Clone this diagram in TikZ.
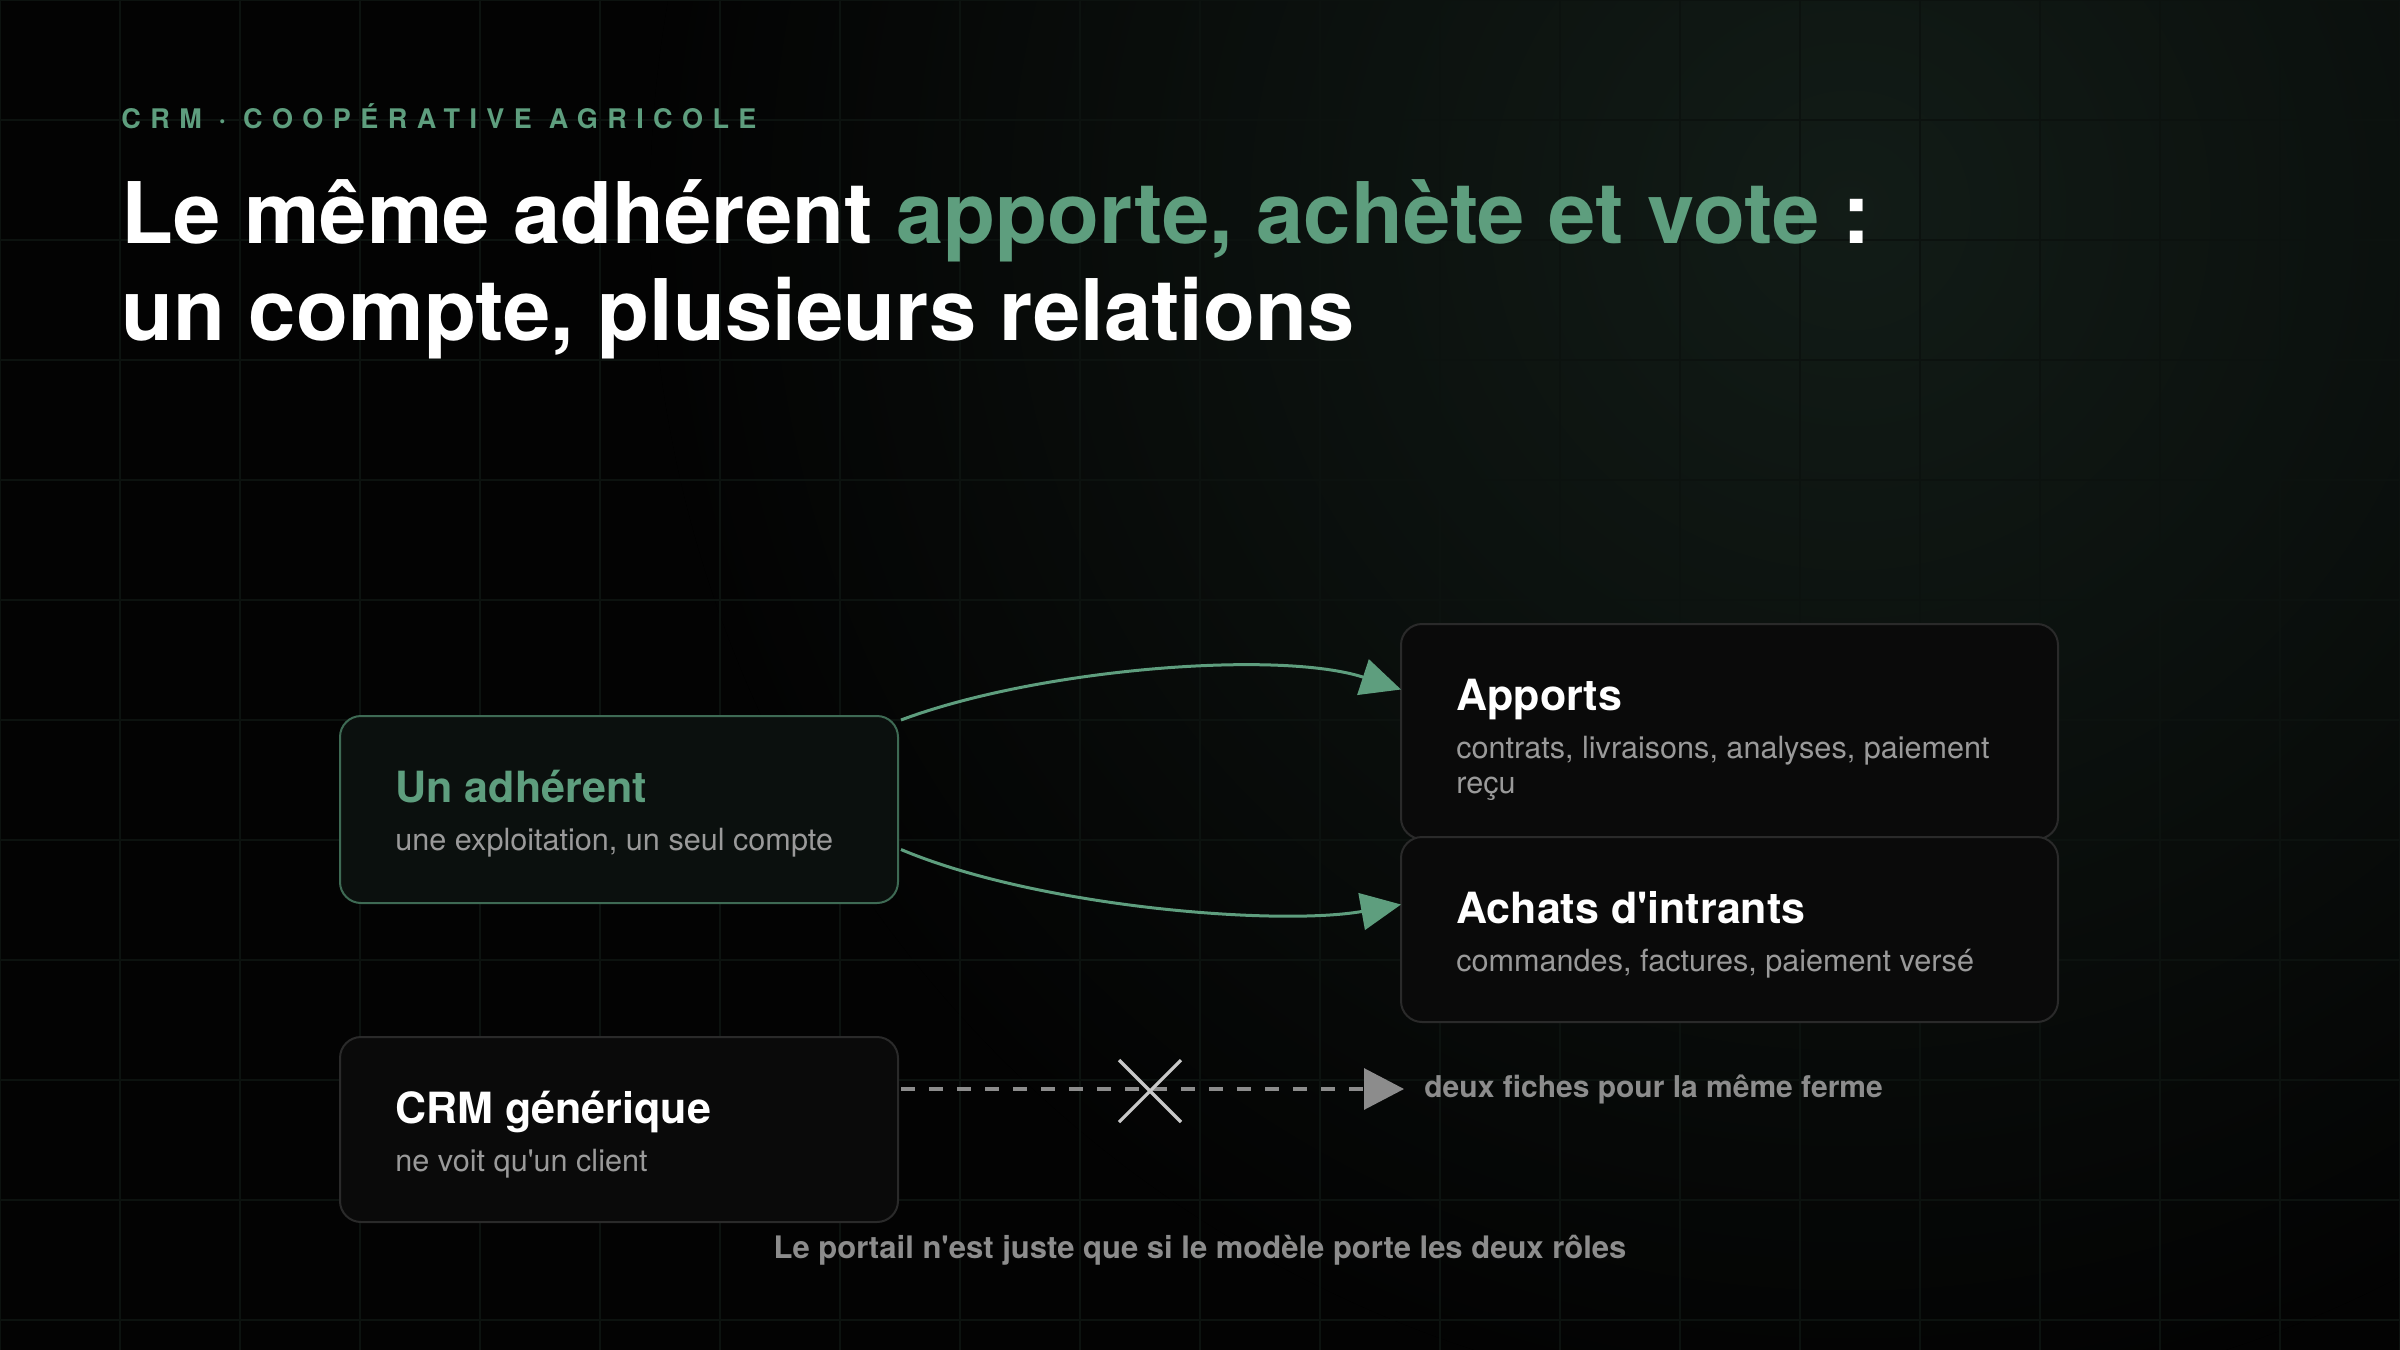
\documentclass[tikz,border=0pt]{standalone}
\usepackage{fontspec}
\setmainfont{TeX Gyre Heros}
\newfontfamily\surtitrefont[LetterSpace=35]{TeX Gyre Heros}
\usepackage{tikz}
\usetikzlibrary{arrows.meta,calc,positioning}

\definecolor{fond}{HTML}{030303}
\definecolor{grille}{HTML}{0C120F}
\definecolor{halo}{HTML}{121c17}
\definecolor{vert}{HTML}{5E9E7E}
\definecolor{vertbord}{HTML}{3E6A54}
\definecolor{gristexte}{HTML}{9A9A9A}
\definecolor{grisnote}{HTML}{8C8C8C}
\definecolor{griscroix}{HTML}{C8C8C8}
\definecolor{bord}{HTML}{2A2A2A}
\definecolor{carte}{HTML}{0A0A0A}
\definecolor{cartevert}{HTML}{0B100E}

\tikzset{
  carte/.style={draw=bord, fill=carte, line width=1pt, rounded corners=10.5pt,
    minimum width=279pt, minimum height=92.5pt, inner sep=0pt},
  titre/.style={anchor=base west, inner sep=0pt, text=white,
    font=\fontsize{21.5}{26}\selectfont\bfseries},
  soustitre/.style={anchor=base west, inner sep=0pt, text=gristexte, align=left,
    font=\fontsize{15.3}{17.5}\selectfont},
  lien/.style={draw=vert, line width=1.5pt, -{Triangle[length=20pt,width=18.5pt]}},
  tirets/.style={draw=grisnote, line width=1.6pt, dash pattern=on 7pt off 7pt,
    -{Triangle[length=20pt,width=20.5pt]}},
}

\begin{document}
\begin{tikzpicture}[x=0.5pt,y=-0.5pt]

  \useasboundingbox (0,0) rectangle (2400,1350);
  \fill[fond] (0,0) rectangle (2400,1350);

  % halo et grille
  \begin{scope}
    \clip (0,0) rectangle (2400,1350);
    \fill[inner color=halo, outer color=fond] (1850,210) circle (600pt);
    \foreach \x in {0,120,...,2400} {
      \draw[grille, line width=0.7pt] (\x,0) -- (\x,1350);
    }
    \foreach \y in {0,120,...,1320} {
      \draw[grille, line width=0.7pt] (0,\y) -- (2400,\y);
    }
  \end{scope}

  % titres
  \node (surtitre) at (121,128) [anchor=base west, inner sep=0pt, text=vert,
    font=\surtitrefont\fontsize{13.5}{16}\selectfont\bfseries]{CRM · COOPÉRATIVE AGRICOLE};
  \node (titre1) at (121,243) [anchor=base west, inner sep=0pt, text=white,
    font=\fontsize{42.5}{48}\selectfont\bfseries]{Le même adhérent \textcolor{vert}{apporte, achète et vote} :};
  \node (titre2) at (121,340) [anchor=base west, inner sep=0pt, text=white,
    font=\fontsize{42.5}{48}\selectfont\bfseries]{un compte, plusieurs relations};

  % cartes
  \node[carte, draw=vertbord, fill=cartevert, minimum height=93.5pt] (adh) at (619,809.5) {};
  \node[carte, minimum width=328.5pt, minimum height=107.5pt] (app) at (1729.5,731.5) {};
  \node[carte, minimum width=328.5pt] (ach) at (1729.5,929.5) {};
  \node[carte] (crm) at (619,1129.5) {};

  \node[titre, text=vert] (adhtitre) at ($(adh.north west)+(56,87)$) {Un adhérent};
  \node[soustitre] (adhsous) at ($(adh.north west)+(56,135)$) {une exploitation, un seul compte};

  \node[titre] (apptitre) at ($(app.north west)+(56,87)$) {Apports};
  \node[soustitre] (appsous) at ($(app.north west)+(56,170)$) {contrats, livraisons, analyses, paiement\\reçu};

  \node[titre] (achtitre) at ($(ach.north west)+(56,87)$) {Achats d\textquotesingle intrants};
  \node[soustitre] (achsous) at ($(ach.north west)+(56,135)$) {commandes, factures, paiement versé};

  \node[titre] (crmtitre) at ($(crm.north west)+(56,87)$) {CRM générique};
  \node[soustitre] (crmsous) at ($(crm.north west)+(56,135)$) {ne voit qu\textquotesingle un client};

  % liens
  \draw[lien] ($(adh.north east)+(2,5)$) .. controls (1040,668) and (1280,650) .. ($(app.west)+(1,-42)$);
  \draw[lien] ($(adh.east)+(2,40)$) .. controls (1040,908) and (1280,926) .. ($(ach.west)+(1,-25)$);

  \node (fiches) at (1424,1097) [anchor=base west, inner sep=0pt, text=grisnote,
    font=\fontsize{15}{18}\selectfont\bfseries]{deux fiches pour la même ferme};
  \draw[tirets, shorten >=10pt] ([xshift=1pt]crm.east |- fiches.west) -- (fiches.west);

  \coordinate (croix) at (1150,1091);
  \draw[griscroix, line width=1.6pt] ($(croix)+(-31,-31)$) -- ($(croix)+(31,31)$)
    ($(croix)+(-31,31)$) -- ($(croix)+(31,-31)$);

  \node (note) at (1200,1258) [anchor=base, inner sep=0pt, text=grisnote,
    font=\fontsize{15.5}{18}\selectfont\bfseries]{Le portail n\textquotesingle est juste que si le modèle porte les deux rôles};

\end{tikzpicture}
\end{document}
